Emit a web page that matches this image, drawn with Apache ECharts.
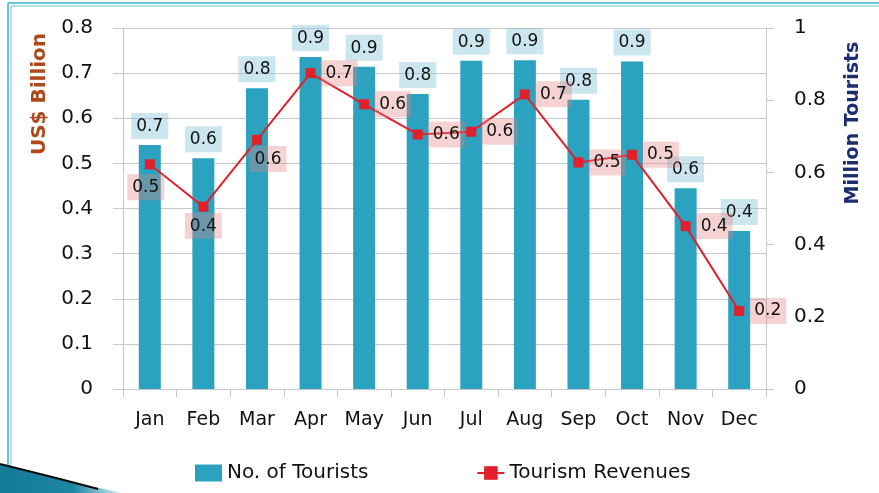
<!DOCTYPE html>
<html>
<head>
<meta charset="utf-8">
<script src="https://cdn.jsdelivr.net/npm/echarts@6/dist/echarts.min.js"></script>
<style>
  html, body { margin: 0; padding: 0; background: #fff; }
  #chart { width: 879px; height: 493px; }
</style>
</head>
<body>
<div id="chart"></div>
<script>
var months = ["Jan", "Feb", "Mar", "Apr", "May", "Jun", "Jul", "Aug", "Sep", "Oct", "Nov", "Dec"];
// Million tourists (right axis)
var tourists = [0.676, 0.639, 0.833, 0.920, 0.893, 0.817, 0.909, 0.911, 0.801, 0.907, 0.556, 0.438];
// US$ billion (left axis)
var revenues = [0.498, 0.404, 0.552, 0.700, 0.631, 0.564, 0.570, 0.653, 0.502, 0.519, 0.361, 0.173];
var leftTicks = [0, 0.8, 0.1];
var rightTicks = [0, 1, 0.2];

var fontFam = "DejaVu Sans";
var gridColor = "#c8c8c8";

// label placement for the revenue points
var revLabelPos = ["bottom", "bottom", "bottom", "right", "right", "right", "right", "right", "right", "right", "right", "right"];
var revLabelOff = [[-4, 0], [0, -4], [11, -4], [0, 0], [0, 0], [0, 0], [0, 0], [0, 0], [0, 0], [0, 0], [0, 0], [0, 0]];

var chart = echarts.init(document.getElementById("chart"));

var revData = revenues.map(function (v, i) {
    return {
        value: v,
        label: { position: revLabelPos[i], offset: revLabelOff[i] }
    };
});

chart.setOption({
    animation: false,
    textStyle: { fontFamily: fontFam },
    grid: { left: 123, right: 113, top: 28, bottom: 104 },
    legend: {
        left: 190,
        top: 458,
        itemGap: 108,
        itemWidth: 27,
        itemHeight: 17,
        textStyle: { fontSize: 20, color: "#111", fontFamily: fontFam },
        data: [
            { name: "No. of Tourists", icon: "rect" },
            { name: "Tourism Revenues" }
        ]
    },
    xAxis: {
        type: "category",
        data: months,
        axisLine: { lineStyle: { color: gridColor } },
        axisTick: { show: true, length: 8, lineStyle: { color: gridColor } },
        axisLabel: { interval: 0, fontSize: 19, color: "#111", margin: 22 }
    },
    yAxis: [
        {
            type: "value",
            min: leftTicks[0], max: leftTicks[1], interval: leftTicks[2],
            axisLine: { show: true, lineStyle: { color: gridColor } },
            axisTick: { show: true, length: 10, lineStyle: { color: gridColor } },
            splitLine: { lineStyle: { color: gridColor } },
            axisLabel: { fontSize: 20, color: "#111", margin: 30 }
        },
        {
            type: "value",
            min: rightTicks[0], max: rightTicks[1], interval: rightTicks[2],
            axisLine: { show: true, lineStyle: { color: gridColor } },
            axisTick: { show: true, length: 8, lineStyle: { color: gridColor } },
            splitLine: { show: false },
            axisLabel: { fontSize: 20, color: "#111", margin: 28 }
        }
    ],
    series: [
        {
            name: "No. of Tourists",
            type: "bar",
            yAxisIndex: 1,
            data: tourists,
            barWidth: 22,
            itemStyle: { color: "#2ba3c0" },
            z: 2,
            label: {
                show: true,
                position: "top",
                distance: 6,
                fontSize: 17,
                color: "#111",
                backgroundColor: "rgba(130,195,215,0.42)",
                padding: [5, 5, 4, 5],
                formatter: function (p) { return p.value.toFixed(1); }
            }
        },
        {
            name: "Tourism Revenues",
            type: "line",
            yAxisIndex: 0,
            data: revData,
            symbol: "rect",
            symbolSize: 10,
            lineStyle: { color: "#e0202a", width: 2 },
            itemStyle: { color: "#e0202a" },
            z: 3,
            label: {
                show: true,
                distance: 5,
                fontSize: 17,
                color: "#111",
                backgroundColor: "rgba(225,130,130,0.35)",
                padding: [5, 5, 4, 5],
                formatter: function (p) { return p.value.toFixed(1); }
            }
        }
    ],
    graphic: [
        // slide frame
        { type: "line", shape: { x1: 8, y1: 3, x2: 879, y2: 3 }, style: { stroke: "#6cc3d8", lineWidth: 2 } },
        { type: "line", shape: { x1: 11, y1: 6, x2: 879, y2: 6 }, style: { stroke: "#6cc3d8", lineWidth: 1 } },
        { type: "line", shape: { x1: 8, y1: 3, x2: 8, y2: 493 }, style: { stroke: "#6cc3d8", lineWidth: 2 } },
        { type: "line", shape: { x1: 11, y1: 6, x2: 11, y2: 493 }, style: { stroke: "#6cc3d8", lineWidth: 1 } },
        {
            type: "polygon",
            shape: { points: [[0, 464], [90, 486], [122, 493], [0, 493]] },
            style: {
                fill: new echarts.graphic.LinearGradient(0, 0, 1, 0, [
                    { offset: 0, color: "#137a96" },
                    { offset: 0.6, color: "#1d86a2" },
                    { offset: 1, color: "#d8eef3" }
                ])
            }
        },
        { type: "polyline", shape: { points: [[0, 464], [60, 479], [98, 489]] }, style: { stroke: "#0a0a0a", lineWidth: 2, fill: null } },
        // axis titles
        {
            type: "text", x: 40, y: 94, rotation: Math.PI / 2,
            style: { text: "US$ Billion", fontSize: 20, fontWeight: "bold", fontFamily: fontFam, fill: "#b0481c", align: "center", verticalAlign: "middle" }
        },
        {
            type: "text", x: 853, y: 123, rotation: Math.PI / 2,
            style: { text: "Million Tourists", fontSize: 19, fontWeight: "bold", fontFamily: fontFam, fill: "#1b2d6e", align: "center", verticalAlign: "middle" }
        }
    ]
});
</script>
</body>
</html>
